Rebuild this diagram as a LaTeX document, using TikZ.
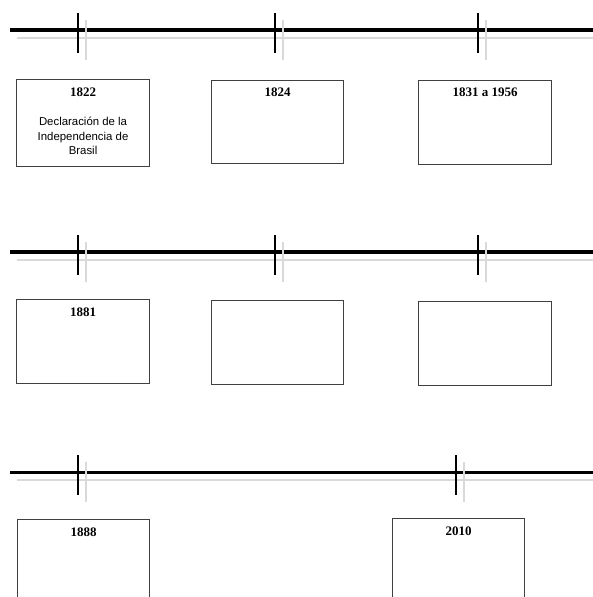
\documentclass[tikz,border=0pt]{standalone}
\usepackage{fontspec}
\setmainfont{Liberation Serif}
\newfontfamily\descfont{Liberation Sans}
\usetikzlibrary{positioning,calc}

\begin{document}
\begin{tikzpicture}[x=1pt,y=-1pt]
        \tikzstyle{axis}=[line width=4pt]
        \tikzstyle{ghost}=[line width=2pt,draw=gray!30]
        \tikzstyle{tick}=[line width=1.6pt]
        \tikzstyle{evbox}=[draw=black!75,line width=1.1pt,minimum width=133pt,minimum height=85pt,inner sep=0pt,anchor=north west]
        \tikzstyle{year}=[font=\bfseries\fontsize{13}{14}\selectfont,inner sep=0pt]
        \tikzstyle{desc}=[font=\descfont\fontsize{11.4}{14.5}\selectfont,align=center,inner sep=0pt]

        \useasboundingbox (0,0) rectangle (593,597);
        \clip (0,0) rectangle (593,597);

        % timelines
        \coordinate (l1) at (10,30);  \coordinate (r1) at (593,30);
        \coordinate (l2) at (10,252); \coordinate (r2) at (593,252);
        \coordinate (l3) at (10,472); \coordinate (r3) at (593,472);

        \foreach \n in {1,2,3} {
            \draw[ghost] ($(l\n)+(7,8)$) -- ($(r\n)+(0,8)$);
        }
        \draw[axis] (l1) -- (r1);
        \draw[axis] (l2) -- (r2);
        \draw[axis,line width=3pt] (l3) -- (r3);

        % ticks
        \foreach \x/\y in {78/30,275/30,478/30,78/252,275/252,478/252,78/472,456/472} {
            \draw[ghost,line width=1.6pt] (\x+8,\y-10) -- (\x+8,\y+30);
            \draw[tick] (\x,\y-17) -- (\x,\y+23);
        }

        % boxes
        \node[evbox,minimum height=87pt] (b1) at (16,79) {};
        \node[evbox,minimum width=132pt,minimum height=83pt] (b2) at (211,80) {};
        \node[evbox,minimum height=84pt] (b3) at (418,80) {};
        \node[evbox,minimum height=84pt] (b4) at (16,299) {};
        \node[evbox,minimum width=132pt,minimum height=84pt] (b5) at (211,300) {};
        \node[evbox,minimum height=84pt] (b6) at (418,301) {};
        \node[evbox,minimum width=132pt,minimum height=90pt] (b7) at (17,519) {};
        \node[evbox,minimum width=132pt,minimum height=90pt] (b8) at (392,518) {};

        % labels
        \node[year,below=9pt of b1.north] (y1) {1822};
        \node[desc,below=38pt of b1.north] (d1) {Declaración de la\\Independencia de\\Brasil};
        \node[year,below=8pt of b2.north] (y2) {1824};
        \node[year,below=8pt of b3.north] (y3) {1831 a 1956};
        \node[year,below=9pt of b4.north] (y4) {1881};
        \node[year,below=9pt of b7.north] (y7) {1888};
        \node[year,below=9pt of b8.north] (y8) {2010};
    \end{tikzpicture}
\end{document}
